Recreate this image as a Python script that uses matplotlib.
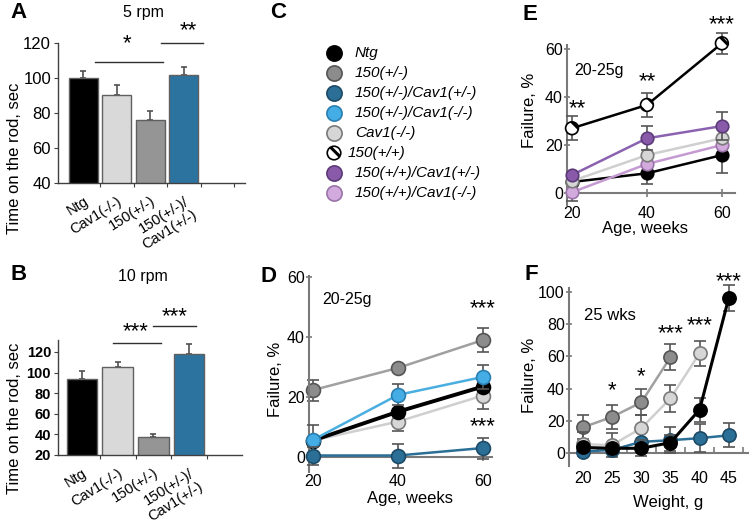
import matplotlib
matplotlib.use('Agg')
import matplotlib.pyplot as plt
from matplotlib.ticker import FixedLocator

plt.rcParams['font.family'] = ['Liberation Sans', 'DejaVu Sans']
plt.rcParams['hatch.linewidth'] = 2.2
plt.rcParams['hatch.color'] = 'black'

# ---------------- data ----------------
bar_groups = ['Ntg', 'Cav1(-/-)', '150(+/-)', '150(+/-)/\nCav1(+/-)']
rod5_mean = [100, 90, 76, 101.5]
rod5_err = [4, 6, 5, 5]
rod10_mean = [94, 105, 37, 118]
rod10_err = [8, 5, 3, 10]
# significance: (x_start, x_end, line_y, star_x, star_y, label)
sig5 = [(0.34, 2.37, 109, 1.3, 119.5, '*'), (2.31, 3.57, 120, 3.15, 127, '**')]
sig10 = [(0.87, 2.2, 128.7, 1.5, 140, '***'), (1.99, 3.19, 145, 2.6, 154, '***')]

legend_labels = ['Ntg', '150(+/-)', '150(+/-)/Cav1(+/-)', '150(+/-)/Cav1(-/-)',
                 'Cav1(-/-)', '150(+/+)', '150(+/+)/Cav1(+/-)', '150(+/+)/Cav1(-/-)']

age = [20, 40, 60]
D_150het = [22.3, 29.7, 39.0]
D_150het_err = [3.5, 0, 4.0]
D_150het_cav1nn = [5.7, 20.7, 26.7]
D_150het_cav1nn_err = [5.0, 3.5, 4.0]
D_ntg = [5.5, 15.1, 23.5]
D_ntg_err = [0, 0, 0]
D_cav1 = [5.5, 11.8, 20.5]
D_cav1_err = [0, 3.0, 4.5]
D_150het_cav1het = [0.5, 0.5, 3.0]
D_150het_cav1het_err = [3.0, 4.0, 3.5]
D_stars = [(60, 49.5, '***'), (60, 10, '***')]

E_150hom = [27, 36.7, 62.4]
E_150hom_err = [4.9, 4.9, 4.5]
E_150hom_cav1het = [7.5, 22.8, 27.9]
E_150hom_cav1het_err = [0, 5.0, 6.0]
E_cav1 = [5, 15.8, 22.8]
E_cav1_err = [0, 0, 0]
E_150hom_cav1nn = [0.3, 12.1, 20.0]
E_150hom_cav1nn_err = [3.5, 0, 0]
E_ntg = [4.6, 8.2, 15.8]
E_ntg_err = [4.0, 4.5, 7.5]
E_stars = [(21.3, 35, '**'), (40, 46.5, '**'), (60, 70, '***')]

weight = [20, 25, 30, 35, 40, 45]
F_150het = [16, 22.5, 31.5, 59.5]
F_150het_err = [7.5, 7.5, 8, 8]
F_cav1 = [5.5, 5.0, 15.5, 34.0, 62.0]
F_cav1_err = [7.5, 7.5, 8, 8.5, 7.8]
F_ntg = [3.5, 3.0, 3.0, 6.5, 27.0, 96.3]
F_ntg_err = [0, 0, 5.0, 5.0, 7.5, 7.8]
F_150het_cav1het = [1.0, 2.0, 7.0, 8.0, 9.3, 11.0]
F_150het_cav1het_err = [0, 0, 0, 8.0, 8.5, 7.5]
F_stars = [(25, 38.5, '*'), (30, 47.5, '*'), (35, 74, '***'), (40, 79, '***'), (45, 106.5, '***')]

# ---------------- figure ----------------
W, H = 750, 527
fig = plt.figure(figsize=(7.5, 5.27), dpi=100)
STAR_FS = 16


def axes_px(x0, y0, x1, y1):
    return fig.add_axes([x0 / W, 1 - y1 / H, (x1 - x0) / W, (y1 - y0) / H])


def ftext(x, y, s, **kw):
    fig.text(x / W, 1 - y / H, s, **kw)


bar_colors = ['#000000', '#d9d9d9', '#959595', '#2d73a0']


def bar_panel(ax, means, errs, sigs, xlim, ylim, yticks, tfs, tweight):
    xs = list(range(len(means)))
    ax.bar(xs, means, width=0.86, color=bar_colors, edgecolor='#606060', linewidth=1.0,
           zorder=2)
    ax.errorbar(xs, means, yerr=[[0] * len(errs), errs], fmt='none', ecolor='#505050',
                elinewidth=1.2, capsize=2, capthick=1.2, zorder=1)
    ax.set_xlim(*xlim)
    ax.set_ylim(*ylim)
    ax.set_yticks(yticks)
    ax.tick_params(axis='y', labelsize=tfs, length=3, width=0.8, color='#404040', pad=2)
    for lab in ax.get_yticklabels():
        lab.set_fontweight(tweight)
    ax.set_xticks(xs)
    ax.set_xticklabels(bar_groups, rotation=32, ha='right', rotation_mode='anchor',
                       fontsize=10.5)
    ax.xaxis.set_minor_locator(FixedLocator([0.5, 1.5, 2.5, 3.5, 4.5]))
    ax.tick_params(axis='x', which='major', length=0, pad=8)
    ax.tick_params(axis='x', which='minor', length=3, width=0.8, color='#404040')
    for sp in ['top', 'right']:
        ax.spines[sp].set_visible(False)
    for sp in ['left', 'bottom']:
        ax.spines[sp].set_color('#404040')
        ax.spines[sp].set_linewidth(1.0)
    for x0, x1, ly, sx, sy, lab in sigs:
        ax.plot([x0, x1], [ly, ly], color='#303030', lw=1.0, clip_on=False)
        ax.text(sx, sy, lab, ha='center', va='center', fontsize=STAR_FS, clip_on=False)


# Panel A
axA = axes_px(58, 43, 245, 183)
bar_panel(axA, rod5_mean, rod5_err, sig5, (-0.76, 4.83), (40, 120), [40, 60, 80, 100, 120],
          12, 'normal')
# Panel B
axB = axes_px(58, 340, 242, 455)
bar_panel(axB, rod10_mean, rod10_err, sig10, (-0.67, 4.48), (20, 131.6),
          [20, 40, 60, 80, 100, 120], 10.5, 'bold')

ftext(10, 12, 'A', fontsize=16, fontweight='bold', ha='left', va='center')
ftext(10, 275, 'B', fontsize=16, fontweight='bold', ha='left', va='center')
ftext(143, 12, '5 rpm', fontsize=11.5, ha='center', va='center')
ftext(143, 277, '10 rpm', fontsize=11.5, ha='center', va='center')
ftext(15, 158, 'Time on the rod, sec', fontsize=12, rotation=90, ha='center', va='center')
ftext(15, 418, 'Time on the rod, sec', fontsize=12, rotation=90, ha='center', va='center')

# ---------------- Panel C legend ----------------
styles = {
    'Ntg': dict(fc='#000000', ec='#000000', lc='#000000'),
    '150(+/-)': dict(fc='#8c8c8c', ec='#555555', lc='#a0a0a0'),
    '150(+/-)/Cav1(+/-)': dict(fc='#2b6f96', ec='#1d4a66', lc='#2b6f96'),
    '150(+/-)/Cav1(-/-)': dict(fc='#45ade6', ec='#2a7fb0', lc='#4aaee0'),
    'Cav1(-/-)': dict(fc='#d6d6d6', ec='#7a7a7a', lc='#cfcfcf'),
    '150(+/+)': dict(fc='#ffffff', ec='#000000', lc='#000000'),
    '150(+/+)/Cav1(+/-)': dict(fc='#8a5aaa', ec='#5c3a78', lc='#8a62b0'),
    '150(+/+)/Cav1(-/-)': dict(fc='#d3aade', ec='#9a74a8', lc='#c59ad3'),
}

axC = axes_px(320, 43, 495, 203)
axC.set_xlim(0, 1)
axC.set_ylim(7.5, -0.5)
axC.axis('off')
for i, lab in enumerate(legend_labels):
    st = styles[lab]
    if lab == '150(+/+)':
        axC.scatter([0.08], [i], s=95, facecolor='white', edgecolor='black', hatch='\\\\',
                    linewidth=1.2, clip_on=False)
        axC.text(0.16, i, lab, fontsize=11, style='italic', va='center', ha='left')
    else:
        axC.scatter([0.08], [i], s=120, facecolor=st['fc'], edgecolor=st['ec'], linewidth=1.2,
                    clip_on=False)
        axC.text(0.2, i, lab, fontsize=11, style='italic', va='center', ha='left')
ftext(270, 12, 'C', fontsize=16, fontweight='bold', ha='left', va='center')


def line_series(ax, x, y, err, name, ms=10, lw=1.8, z=2):
    st = styles[name]
    ax.errorbar(x[:len(y)], y, yerr=err, fmt='-o', color=st['lc'], mfc=st['fc'], mec=st['ec'],
                mew=1.2, ms=ms, lw=lw, ecolor='#555555', elinewidth=1.2, capsize=4,
                capthick=1.2, zorder=z, clip_on=False)


def style_line_axes(ax, xlim, ylim, xticks, yticks, xpad, tickdir='inout'):
    ax.set_xlim(*xlim)
    ax.set_ylim(*ylim)
    ax.set_xticks(xticks)
    ax.set_yticks(yticks)
    for sp in ['top', 'right']:
        ax.spines[sp].set_visible(False)
    ax.spines['bottom'].set_position(('data', 0))
    for sp in ['left', 'bottom']:
        ax.spines[sp].set_color('#7a7a7a')
        ax.spines[sp].set_linewidth(1.5)
    ax.tick_params(axis='both', labelsize=11.5, color='#7a7a7a', width=1.2)
    ax.tick_params(axis='x', pad=xpad, length=6, direction=tickdir)
    ax.tick_params(axis='y', length=4, direction='inout', pad=1)


# ---------------- Panel D ----------------
axD = axes_px(309, 275.5, 492, 472)
style_line_axes(axD, (19.06, 62.1), (-5, 60.5), age, [0, 20, 40, 60], 9)
line_series(axD, age, D_150het, D_150het_err, '150(+/-)', z=2)
line_series(axD, age, D_cav1, D_cav1_err, 'Cav1(-/-)', z=3)
line_series(axD, age, D_ntg, D_ntg_err, 'Ntg', lw=2.8, z=4)
line_series(axD, age, D_150het_cav1nn, D_150het_cav1nn_err, '150(+/-)/Cav1(-/-)', z=5)
line_series(axD, age, D_150het_cav1het, D_150het_cav1het_err, '150(+/-)/Cav1(+/-)', z=6)
for x, y, s in D_stars:
    axD.text(x, y, s, ha='center', va='center', fontsize=STAR_FS, clip_on=False)
axD.text(28, 52.5, '20-25g', ha='center', va='center', fontsize=11.5)
ftext(261, 277, 'D', fontsize=16, fontweight='bold', ha='left', va='center')
ftext(275, 379, 'Failure, %', fontsize=12, rotation=90, ha='center', va='center')
ftext(410, 498, 'Age, weeks', fontsize=12, ha='center', va='center')

# ---------------- Panel E ----------------
axE = axes_px(567, 45, 735, 205)
style_line_axes(axE, (18.67, 63.5), (-5, 61.7), age, [0, 20, 40, 60], 6)
line_series(axE, age, E_ntg, E_ntg_err, 'Ntg', ms=9, lw=1.8, z=2)
line_series(axE, age, E_150hom_cav1nn, E_150hom_cav1nn_err, '150(+/+)/Cav1(-/-)', ms=9, z=3)
line_series(axE, age, E_cav1, E_cav1_err, 'Cav1(-/-)', ms=9, z=4)
line_series(axE, age, E_150hom_cav1het, E_150hom_cav1het_err, '150(+/+)/Cav1(+/-)', ms=9, z=5)
axE.errorbar(age, E_150hom, yerr=E_150hom_err, fmt='-', color='black', lw=1.8,
             ecolor='#555555', elinewidth=1.2, capsize=4, capthick=1.2, zorder=6,
             clip_on=False)
axE.scatter(age, E_150hom, s=85, facecolor='white', edgecolor='black', hatch='\\\\',
            linewidth=1.2, zorder=7, clip_on=False)
for x, y, s in E_stars:
    axE.text(x, y, s, ha='center', va='center', fontsize=STAR_FS, clip_on=False)
axE.text(27.3, 51, '20-25g', ha='center', va='center', fontsize=11.5)
ftext(530, 15, 'E', fontsize=16, fontweight='bold', ha='center', va='center')
ftext(530, 110, 'Failure, %', fontsize=12, rotation=90, ha='center', va='center')
ftext(645, 229, 'Age, weeks', fontsize=12, ha='center', va='center')

# ---------------- Panel F ----------------
axF = axes_px(569, 288, 748, 466)
style_line_axes(axF, (17.6, 48.3), (-8, 102.5), weight, [0, 20, 40, 60, 80, 100], 13,
                tickdir='in')
axF.tick_params(axis='x', which='major', length=0)
axF.xaxis.set_minor_locator(FixedLocator([22.5, 27.5, 32.5, 37.5, 42.5, 47.5]))
axF.tick_params(axis='x', which='minor', length=4, direction='in', color='#7a7a7a', width=1.2)
line_series(axF, weight, F_150het, F_150het_err, '150(+/-)', ms=9.5, z=2)
line_series(axF, weight, F_cav1, F_cav1_err, 'Cav1(-/-)', ms=9.5, z=3)
line_series(axF, weight, F_150het_cav1het, F_150het_cav1het_err, '150(+/-)/Cav1(+/-)',
            ms=9.5, z=4)
line_series(axF, weight, F_ntg, F_ntg_err, 'Ntg', ms=9.5, lw=2.2, z=5)
for x, y, s in F_stars:
    axF.text(x, y, s, ha='center', va='center', fontsize=STAR_FS, clip_on=False)
axF.text(24.7, 85.5, '25 wks', ha='center', va='center', fontsize=12)
ftext(531, 275, 'F', fontsize=16, fontweight='bold', ha='center', va='center')
ftext(530, 375, 'Failure, %', fontsize=12, rotation=90, ha='center', va='center')
ftext(668, 502, 'Weight, g', fontsize=12, ha='center', va='center')

fig.savefig('out.png', dpi=100)
